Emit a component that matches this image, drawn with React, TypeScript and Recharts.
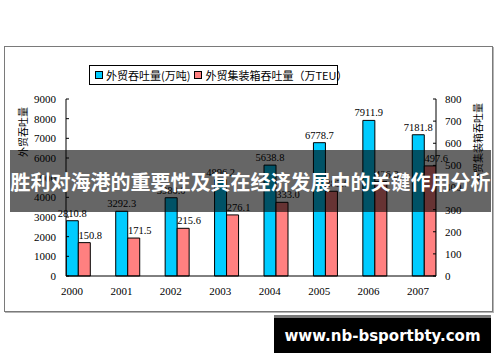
import React from "react";
import { Bar, BarChart, LabelList, XAxis, YAxis } from "recharts";

const YEARS = [2000, 2001, 2002, 2003, 2004, 2005, 2006, 2007];
// 外贸吞吐量 (万吨), left axis
const TONNAGE = [2810.8, 3292.3, 3980.0, 4896.2, 5638.8, 6778.7, 7911.9, 7181.8];
// 外贸集装箱吞吐量 (万TEU), right axis
const TEU = [150.8, 171.5, 215.6, 276.1, 333.0, 383.0, 426.8, 497.6];
const LEFT_TICKS = [0, 1000, 2000, 3000, 4000, 5000, 6000, 7000, 8000, 9000];
const RIGHT_TICKS = [0, 100, 200, 300, 400, 500, 600, 700, 800];

const SERIES_NAMES = ["外贸吞吐量(万吨)", "外贸集装箱吞吐量（万TEU）"];
const TITLE = "胜利对海港的重要性及其在经济发展中的关键作用分析";
const WATERMARK = "www.nb-bsportbty.com";

const BLUE = "#00CCFF";
const PINK = "#FF8080";
const SERIF = "'Liberation Serif', 'Times New Roman', serif";
const CJK = "'Noto Sans CJK SC', sans-serif";

const data = YEARS.map((year, i) => ({ year, tonnage: TONNAGE[i], teu: TEU[i] }));

const tickStyle = { fontFamily: SERIF, fontSize: 11, fill: "#000" };

export default function App() {
  return (
    <div style={{ position: "absolute", left: 0, top: 0, width: 500, height: 362, background: "#fff" }}>
      {/* chart frame */}
      <div
        style={{
          position: "absolute",
          left: 4,
          top: 46,
          width: 487,
          height: 264,
          border: "1px solid #7a7a7a",
          boxShadow: "1px 1px 0 #b5b5b5",
        }}
      />

      <BarChart
        width={500}
        height={362}
        data={data}
        margin={{ top: 99, right: 0, bottom: 56, left: 0 }}
        barSize={12}
        barGap={0}
        style={{ position: "absolute", left: 0, top: 0 }}
      >
        <XAxis
          dataKey="year"
          type="number"
          domain={[1999.757, 2007.243]}
          allowDataOverflow
          ticks={YEARS}
          interval={0}
          height={30}
          tickLine={false}
          tickSize={0}
          tickMargin={11}
          axisLine={{ stroke: "#000" }}
          tick={{ ...tickStyle, dx: -6 }}
        />
        <YAxis
          yAxisId="left"
          orientation="left"
          width={66}
          domain={[0, 9000]}
          ticks={LEFT_TICKS}
          interval={0}
          tickSize={-3}
          tickMargin={13}
          axisLine={{ stroke: "#000" }}
          tickLine={{ stroke: "#000" }}
          tick={tickStyle}
        />
        <YAxis
          yAxisId="right"
          orientation="right"
          width={64}
          domain={[0, 800]}
          ticks={RIGHT_TICKS}
          interval={0}
          tickSize={-3}
          tickMargin={12}
          axisLine={{ stroke: "#000" }}
          tickLine={{ stroke: "#000" }}
          tick={{ ...tickStyle, textAnchor: "start" }}
        />
        <Bar yAxisId="left" dataKey="tonnage" fill={BLUE} stroke="#000" strokeWidth={1} isAnimationActive={false}>
          <LabelList
            dataKey="tonnage"
            position="top"
            offset={4}
            formatter={(v: number) => v.toFixed(1)}
            style={{ fontFamily: SERIF, fontSize: 10.5 }}
            fill="#000"
          />
        </Bar>
        <Bar yAxisId="right" dataKey="teu" fill={PINK} stroke="#000" strokeWidth={1} isAnimationActive={false}>
          <LabelList
            dataKey="teu"
            position="top"
            offset={4}
            dx={6}
            formatter={(v: number) => v.toFixed(1)}
            style={{ fontFamily: SERIF, fontSize: 10.5 }}
            fill="#000"
          />
        </Bar>
      </BarChart>

      {/* legend */}
      <div
        style={{
          position: "absolute",
          left: 89,
          top: 65,
          width: 247,
          height: 18,
          border: "1px solid #000",
          background: "#fff",
          display: "flex",
          alignItems: "center",
          fontFamily: CJK,
          fontSize: 11,
          color: "#000",
          whiteSpace: "nowrap",
        }}
      >
        {SERIES_NAMES.map((name, i) => (
          <span key={name} style={{ display: "flex", alignItems: "center", marginLeft: i === 0 ? 5 : 4 }}>
            <span
              style={{
                display: "inline-block",
                width: 6,
                height: 6,
                border: "1px solid #000",
                background: i === 0 ? BLUE : PINK,
                marginRight: 3,
              }}
            />
            {name}
          </span>
        ))}
      </div>

      {/* axis titles */}
      <div
        style={{
          position: "absolute",
          left: 22,
          top: 132,
          transform: "translate(-50%, -50%) rotate(-90deg)",
          fontFamily: CJK,
          fontSize: 10,
          whiteSpace: "nowrap",
          color: "#000",
        }}
      >
        外贸吞吐量
      </div>
      <div
        style={{
          position: "absolute",
          left: 477,
          top: 143,
          transform: "translate(-50%, -50%) rotate(-90deg)",
          fontFamily: CJK,
          fontSize: 10,
          whiteSpace: "nowrap",
          color: "#000",
        }}
      >
        外贸集装箱吞吐量
      </div>

      {/* title band */}
      <div
        style={{
          position: "absolute",
          left: 10,
          top: 150,
          width: 481,
          height: 62,
          background: "rgba(0,0,0,0.6)",
          display: "flex",
          alignItems: "center",
          justifyContent: "center",
          color: "#fff",
          fontFamily: CJK,
          fontWeight: 700,
          fontSize: 20,
          whiteSpace: "nowrap",
        }}
      >
        {TITLE}
      </div>

      {/* watermark */}
      <div
        style={{
          position: "absolute",
          left: 274,
          top: 315,
          width: 217,
          height: 35,
          borderTop: "3px solid #7a7a7a",
          background: "#000",
          color: "#fff",
          display: "flex",
          alignItems: "center",
          justifyContent: "center",
          fontFamily: "'DejaVu Sans', sans-serif",
          fontWeight: 700,
          fontSize: 15,
          whiteSpace: "nowrap",
        }}
      >
        {WATERMARK}
      </div>
    </div>
  );
}
